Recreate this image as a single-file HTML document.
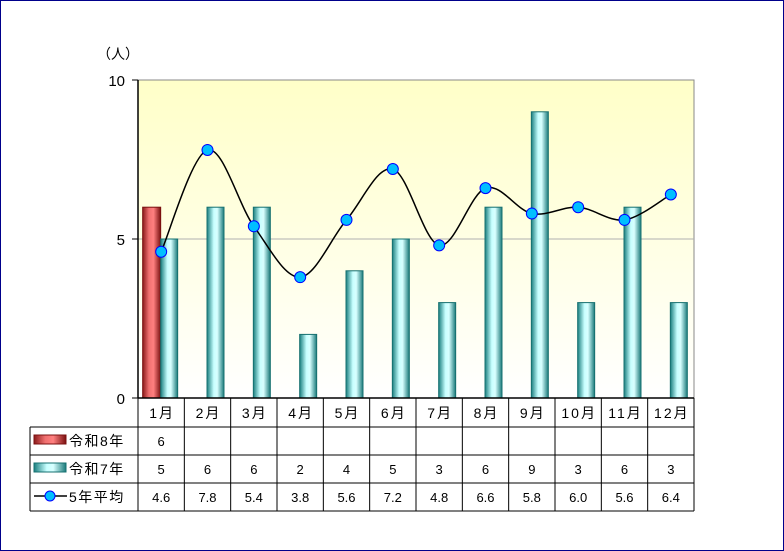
<!DOCTYPE html>
<html><head><meta charset="utf-8"><style>
html,body{margin:0;padding:0;background:#fff}
svg{display:block}
text{font-family:"Liberation Sans","Noto Sans CJK JP",sans-serif;fill:#000}
</style></head><body>
<svg id="s" width="784" height="551" xmlns="http://www.w3.org/2000/svg">
<defs>
<linearGradient id="bg" x1="0" y1="0" x2="0" y2="1">
<stop offset="0" stop-color="#ffffc8"/><stop offset="1" stop-color="#ffffff"/></linearGradient>
<linearGradient id="red" x1="0" y1="0" x2="1" y2="0">
<stop offset="0" stop-color="#8b1a1a"/><stop offset="0.35" stop-color="#f07070"/><stop offset="0.6" stop-color="#ff8080"/><stop offset="1" stop-color="#7a1010"/></linearGradient>
<linearGradient id="teal" x1="0" y1="0" x2="1" y2="0">
<stop offset="0" stop-color="#1a7f7f"/><stop offset="0.4" stop-color="#c8ffff"/><stop offset="0.6" stop-color="#d8ffff"/><stop offset="1" stop-color="#1a7a7a"/></linearGradient>
</defs>
<rect x="0.5" y="0.5" width="783" height="550" fill="#fff" stroke="#00008b"/>
<rect x="138" y="80" width="556" height="318" fill="url(#bg)" stroke="#888"/>
<line x1="138" y1="239" x2="694" y2="239" stroke="#b0b0b0"/>
<g id="g"></g>
<line x1="138" y1="80" x2="138" y2="398" stroke="#000" stroke-width="1.5"/>
<line x1="132" y1="80" x2="138" y2="80" stroke="#000"/>
<line x1="132" y1="239" x2="138" y2="239" stroke="#000"/>
<line x1="132" y1="398" x2="138" y2="398" stroke="#000"/>
<text x="125" y="86" font-size="15" text-anchor="end">10</text>
<text x="125" y="245" font-size="15" text-anchor="end">5</text>
<text x="125" y="404" font-size="15" text-anchor="end">0</text>
<text x="97" y="59" font-size="14">（人）</text>
</svg>
<script>
var g=document.getElementById('g'),h='';
var r8=[6,null,null,null,null,null,null,null,null,null,null,null];
var r7=[5,6,6,2,4,5,3,6,9,3,6,3];
var av=[4.6,7.8,5.4,3.8,5.6,7.2,4.8,6.6,5.8,6.0,5.6,6.4];
var W=556/12,u=31.8;
function cx(i){return 138+W*(i+0.5);}
function Y(v){return 398-v*u;}
for(var i=0;i<12;i++){
 var c=cx(i);
 if(r8[i]!=null)h+='<rect x="'+(c-18.5)+'" y="'+Y(r8[i])+'" width="18" height="'+r8[i]*u+'" fill="url(#red)" stroke="#7a1010"/>';
 h+='<rect x="'+(c-0.5)+'" y="'+Y(r7[i])+'" width="17" height="'+r7[i]*u+'" fill="url(#teal)" stroke="#167070"/>';
}
var P=av.map(function(v,i){return [cx(i),Y(v)];});
var d='M'+P[0][0]+','+P[0][1];
for(var i=0;i<11;i++){
 var p0=P[Math.max(0,i-1)],p1=P[i],p2=P[i+1],p3=P[Math.min(11,i+2)];
 var t=1/6;
 d+=' C'+(p1[0]+(p2[0]-p0[0])*t)+','+(p1[1]+(p2[1]-p0[1])*t)+' '+(p2[0]-(p3[0]-p1[0])*t)+','+(p2[1]-(p3[1]-p1[1])*t)+' '+p2[0]+','+p2[1];
}
h+='<path d="'+d+'" fill="none" stroke="#000" stroke-width="1.5"/>';
P.forEach(function(p){h+='<circle cx="'+p[0]+'" cy="'+p[1]+'" r="5.5" fill="#00bfff" stroke="#0000ff" stroke-width="1"/>';});
var L=30,X0=138,X1=694,ys=[398,427,455,483,511];
h+='<line x1="'+X0+'" y1="398" x2="'+X0+'" y2="511" stroke="#000"/>';
h+='<line x1="'+X1+'" y1="398" x2="'+X1+'" y2="511" stroke="#000"/>';
for(var k=1;k<12;k++){var x=X0+W*k;h+='<line x1="'+x+'" y1="398" x2="'+x+'" y2="511" stroke="#000"/>';}
h+='<line x1="'+X0+'" y1="398" x2="'+X1+'" y2="398" stroke="#000" stroke-width="1.5"/>';
for(var k=1;k<5;k++)h+='<line x1="'+L+'" y1="'+ys[k]+'" x2="'+X1+'" y2="'+ys[k]+'" stroke="#000"/>';
h+='<line x1="'+L+'" y1="427" x2="'+L+'" y2="511" stroke="#000"/>';
function T(x,y,s,fs,ls){return '<text x="'+x+'" y="'+y+'" font-size="'+(fs||13)+'" text-anchor="middle"'+(ls?' letter-spacing="'+ls+'"':'')+'>'+s+'</text>';}
for(var i=0;i<12;i++){
 var c=cx(i);
 h+=T(c+1,418,(i+1)+'月',14,2);
 if(r8[i]!=null)h+=T(c,446,r8[i]);
 h+=T(c,474,r7[i]);
 h+=T(c,502,av[i].toFixed(1));
}
h+='<rect x="34" y="435" width="32" height="9" fill="url(#red)" stroke="#7a1010"/>';
h+='<text x="69" y="446" font-size="14" letter-spacing="1.5">令和8年</text>';
h+='<rect x="34" y="463" width="32" height="9" fill="url(#teal)" stroke="#167070"/>';
h+='<text x="69" y="474" font-size="14" letter-spacing="1.5">令和7年</text>';
h+='<line x1="34" y1="496" x2="67" y2="496" stroke="#000" stroke-width="1.5"/><circle cx="50" cy="496" r="5" fill="#00bfff" stroke="#0000ff"/>';
h+='<text x="69" y="502" font-size="14" letter-spacing="1.5">5年平均</text>';
g.innerHTML=h;
</script>
</body></html>
